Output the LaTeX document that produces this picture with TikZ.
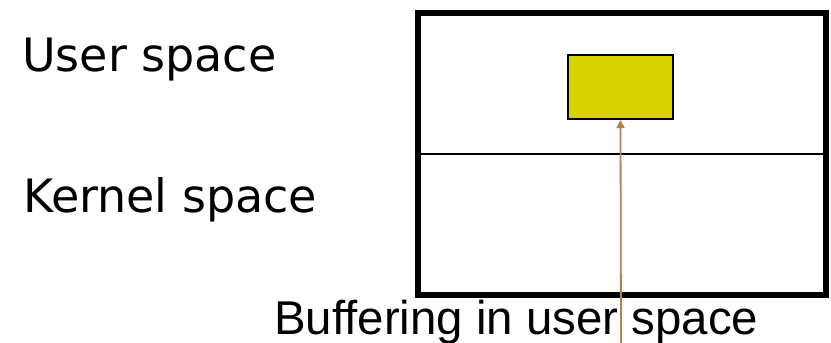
\documentclass[tikz,border=0pt]{standalone}
\usepackage{fontspec}
\setmainfont{DejaVu Sans}
\newfontfamily\captionfont{Liberation Sans}
\usepackage{xcolor}
\usepackage{tikz}
\usetikzlibrary{arrows.meta, positioning}
\definecolor{bufyellow}{RGB}{215,210,0}
\definecolor{ptrbrown}{RGB}{180,130,75}
\tikzset{
  spacebox/.style={rectangle, draw=black, line width=6pt, minimum width=408pt, minimum height=282pt, inner sep=0pt},
  bufbox/.style={rectangle, draw=black, fill=bufyellow, line width=2pt, minimum width=105pt, minimum height=64pt, inner sep=0pt},
  spacelabel/.style={anchor=base west, inner sep=0pt, font=\fontsize{46}{50}\selectfont},
  caption/.style={anchor=base west, inner sep=0pt, font=\captionfont\fontsize{47.4}{50}\selectfont},
  arrow/.style={line width=1.8pt, color=ptrbrown, -{Triangle[length=8pt, width=8pt]}}
}
\begin{document}
\begin{tikzpicture}[x=1pt, y=1pt]
  \useasboundingbox (0,0) rectangle (831,343);
  \node (mem) [spacebox] at (622,189) {};
  \draw [line width=1.5pt] (mem.west) -- (mem.east);
  \node (buf) [bufbox] at (620.5,256) {};
  \node (user) [spacelabel] at (22,271) {User space};
  \node (kernel) [spacelabel] at (23,130) {Kernel space};
  \node (cap) [caption] at (274,8) {Buffering in user space};
  \coordinate (tail) at (621,0);
  \draw [arrow] (tail) -- (buf.south);
\end{tikzpicture}
\end{document}
